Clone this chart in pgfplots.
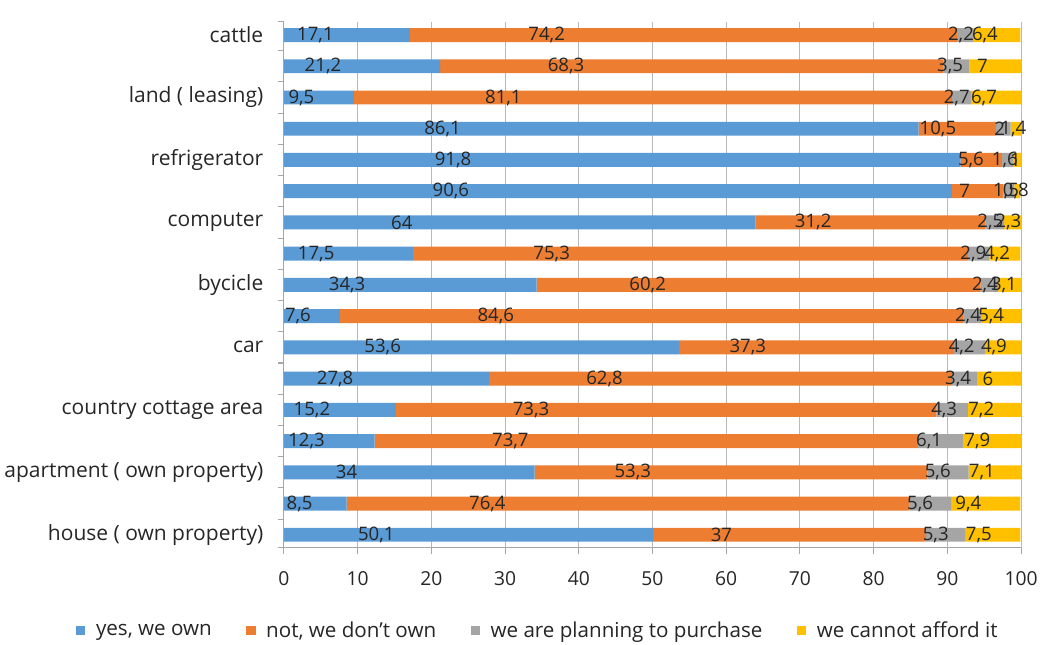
\documentclass[border=0pt]{standalone}
\usepackage{pgfplots}
\usepackage{pgfplotstable}
\pgfplotsset{compat=1.18}
\usepackage{fontspec}
\setmainfont{Open Sans}
\definecolor{cblue}{HTML}{5B9BD5}
\definecolor{corange}{HTML}{ED7D31}
\definecolor{cgray}{HTML}{A5A5A5}
\definecolor{cgold}{HTML}{FFC000}
\definecolor{ctext}{HTML}{262626}
\pgfplotstableread{
row own notown plan afford
1 17.1 74.2 2.2 6.4
2 21.2 68.3 3.5 7
3 9.5 81.1 2.7 6.7
4 86.1 10.5 2 1.4
5 91.8 5.6 1.6 1
6 90.6 7.0 1.5 0.8
7 64 31.2 2.5 2.3
8 17.5 75.3 2.9 4.2
9 34.3 60.2 2.4 3.1
10 7.6 84.6 2.4 5.4
11 53.6 37.3 4.2 4.9
12 27.8 62.8 3.4 6
13 15.2 73.3 4.3 7.2
14 12.3 73.7 6.1 7.9
15 34 53.3 5.6 7.1
16 8.5 76.4 5.6 9.4
17 50.1 37 5.3 7.5
}\datatable
\begin{document}
\begin{tikzpicture}
\begin{axis}[
  xbar stacked,
  width=555pt, height=396pt, scale only axis,
  xmin=0, xmax=100, ymin=0.58, ymax=17.42,
  y dir=reverse,
  bar width=10.5pt,
  xtick={0,10,...,100},
  ytick={0.58,1.5,2.5,...,16.5,17.42},
  yticklabels={},
  extra y ticks={1,3,...,17},
  extra y tick labels={cattle, land ( leasing), refrigerator, computer, bycicle, car, country cottage area, apartment ( own property), house ( own property)},
  extra y tick style={major tick length=0pt, yticklabel style={font=\fontsize{15.8}{17}\selectfont, text=ctext, xshift=-12pt}},
  xticklabel style={font=\fontsize{14.5}{16}\selectfont, text=ctext, yshift=-10pt},
  /pgf/number format/assume math mode=true,
  /pgf/number format/use comma,
  xmajorgrids, major grid style={gray!55, line width=0.8pt},
  axis x line*=bottom, axis y line*=left,
  axis line style={gray!70, line width=0.8pt},
  every tick/.append style={gray!70, line width=0.8pt},
  xtick pos=bottom, ytick pos=left,
  tick align=outside,
  nodes near coords,
  point meta=rawx,
  visualization depends on={rawx \as \rawx},
  every node near coord/.append style={anchor=center, xshift={-\rawx*1.3875pt}, font=\fontsize{14}{15}\selectfont, text=ctext, inner sep=0pt},
  legend style={at={(0.345,-0.157)}, anchor=center, draw=none, legend columns=4, font=\fontsize{15.5}{17}\selectfont, text=ctext, /tikz/every odd column/.append style={column sep=6pt}, /tikz/every even column/.append style={column sep=24pt}},
  legend image code/.code={\fill[#1] (0pt,-3.5pt) rectangle (7pt,3.5pt);},
]
\addplot[fill=cblue, draw=none] table[x=own, y=row] {\datatable};
\addplot[fill=corange, draw=none] table[x=notown, y=row] {\datatable};
\addplot[fill=cgray, draw=none] table[x=plan, y=row] {\datatable};
\addplot[fill=cgold, draw=none] table[x=afford, y=row] {\datatable};
\legend{{yes, we own}, {not, we don't own}, {we are planning to purchase}, {we cannot afford it}}
\end{axis}
\path (current axis.north east) ++(9pt,16.5pt) coordinate (tp);
\path (current axis.south east) ++(9pt,-72pt) coordinate (bt);
\path (tp) -- (bt);
\end{tikzpicture}
\end{document}
